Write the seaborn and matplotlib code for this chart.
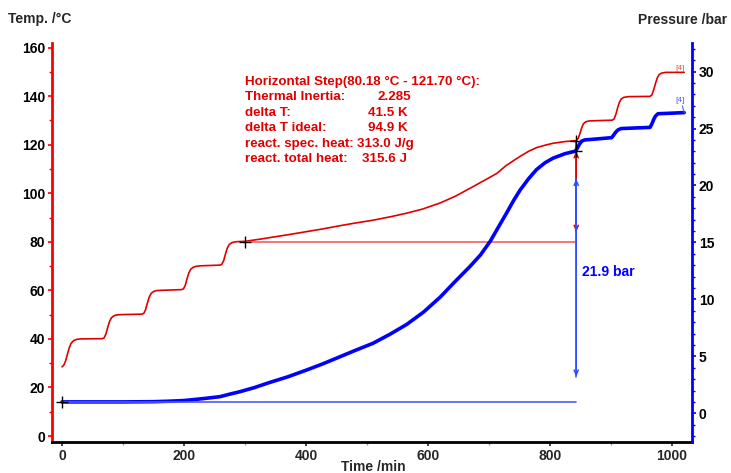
import numpy as np
import pandas as pd
import matplotlib
matplotlib.use("Agg")
import matplotlib.pyplot as plt
from matplotlib.ticker import MultipleLocator
import seaborn as sns

# temperature curve
temp_time = [0, 3, 6, 9, 12, 15, 19, 24, 30,
             66, 69, 72, 75, 78, 81, 85, 90, 96,
             131, 134, 137, 140, 143, 146, 150, 155, 161,
             196, 199, 202, 205, 208, 211, 215, 220, 226,
             259, 262, 265, 268, 271, 274, 278, 284, 290,
             300, 325, 350, 375, 401, 425, 455, 480, 510, 540, 565, 590, 620, 645,
             670, 696, 713, 727, 740, 751, 765, 778, 792, 805, 825,
             843, 846, 849, 852, 855, 859, 865, 875,
             902, 905, 908, 911, 914, 917, 921, 928,
             964, 967, 970, 973, 976, 979, 983, 990, 1020]
temp_vals = [28.5, 29.2, 31, 33.8, 36.4, 38.2, 39.3, 39.8, 40.0,
             40.1, 40.4, 42, 44.8, 47.2, 48.7, 49.5, 49.9, 50.0,
             50.2, 50.5, 52, 54.8, 57.2, 58.7, 59.5, 59.9, 60.0,
             60.3, 60.6, 62, 64.8, 67.2, 68.7, 69.5, 69.9, 70.1,
             70.4, 70.7, 72.2, 75, 77.4, 78.8, 79.6, 80.0, 80.1,
             80.2, 81.1, 82.1, 83.1, 84.2, 85.2, 86.6, 87.7, 88.9, 90.4, 91.8, 93.4, 96.0, 98.8,
             102.2, 105.8, 108.2, 111.2, 113.4, 115.2, 117.3, 118.8, 119.8, 120.6, 121.3,
             121.7, 122.5, 124.5, 127, 128.7, 129.5, 129.8, 129.9,
             130.1, 130.6, 132.5, 135.3, 137.6, 138.9, 139.5, 139.8,
             139.9, 140.5, 142.6, 145.3, 147.6, 148.9, 149.5, 149.8, 149.8]

# pressure curve
pres_time = [0, 50, 100, 150, 175, 200, 230, 259, 275, 292, 315, 340, 370, 401, 428,
             455, 482, 510, 538, 565, 593, 620, 645, 669, 686, 702, 716, 729, 740,
             751, 765, 778, 792, 805, 825, 841, 844, 848, 852, 857, 880, 901, 904,
             908, 912, 917, 940, 964, 967, 970, 973, 977, 1000, 1020]
pres_vals = [1.0, 1.0, 1.0, 1.02, 1.06, 1.12, 1.28, 1.46, 1.68, 1.9, 2.25, 2.7, 3.2, 3.8, 4.35,
             4.95, 5.55, 6.15, 6.95, 7.8, 8.9, 10.2, 11.6, 12.9, 13.9, 15.1, 16.4, 17.6, 18.65,
             19.6, 20.6, 21.4, 22.0, 22.4, 22.8, 23.0, 23.2, 23.6, 23.9, 24.0, 24.1, 24.2, 24.4,
             24.7, 24.9, 25.0, 25.05, 25.1, 25.4, 25.8, 26.1, 26.3, 26.35, 26.4]

# evaluation marks
step_t0, step_t1 = 300, 843
step_T1 = 121.7
p_base, p_end = 1.0, 23.0

info_labels = ["Horizontal Step(80.18 \u00b0C - 121.70 \u00b0C):", "Thermal Inertia:", "delta T:",
               "delta T ideal:", "react. spec. heat:", "react. total heat:"]
info_values = ["", "2.285", "41.5 K", "94.9 K", "313.0 J/g", "315.6 J"]
info_value_x = [0, 377, 368, 368, 357, 362]  # pixel left edges of value column

sns.set_style("ticks")
plt.rcParams['font.family'] = ['Liberation Sans', 'DejaVu Sans']
plt.rcParams['font.weight'] = 'bold'

RED = "#e00000"
BLUE = "#0000ff"
W, H = 731, 473

fig = plt.figure(figsize=(W / 100, H / 100), dpi=100)
ax = fig.add_axes([52 / W, 1 - 442 / H, (692 - 52) / W, (442 - 43) / H])
ax2 = ax.twinx()

temp_df = pd.DataFrame({"t": temp_time, "T": temp_vals})
pres_df = pd.DataFrame({"t": pres_time, "p": pres_vals})

sns.lineplot(data=temp_df, x="t", y="T", ax=ax, color=RED, lw=1.2, sort=False, estimator=None)
sns.lineplot(data=pres_df, x="t", y="p", ax=ax2, color=BLUE, lw=2.6, sort=False, estimator=None)

# horizontal step baselines
ax.plot([step_t0, step_t1], [80, 80], color="#f06060", lw=1.2)
ax2.plot([0, step_t1], [p_base, p_base], color="#4a5cff", lw=1.2)

# vertical arrows
ax.plot([step_t1, step_t1], [84, step_T1], color=RED, lw=1.1)
ax.annotate("", xy=(step_t1, 117.4), xytext=(step_t1, 84.0),
            arrowprops=dict(arrowstyle="<->,head_length=0.35,head_width=0.15", color=RED, lw=1.1,
                            shrinkA=0, shrinkB=0))
ax2.plot([step_t1, step_t1], [3.2, 20.6], color="#3050ff", lw=1.1, zorder=1)
ax2.annotate("", xy=(step_t1, 20.6), xytext=(step_t1, 3.2),
             arrowprops=dict(arrowstyle="<->,head_length=0.35,head_width=0.15", color="#3050ff", lw=1.1,
                             shrinkA=0, shrinkB=0))
ax2.text(852, 12.4, "21.9 bar", color=BLUE, fontsize=10, fontweight="bold", va="center")

# cursor marks
ax.plot([step_t0, step_t1], [80, step_T1], ls="none", marker="+", ms=8, mew=1, color="black", zorder=5)
ax2.plot([0, step_t1], [p_base, p_end], ls="none", marker="+", ms=8, mew=1, color="black", zorder=5)

# segment labels
ax.text(1013, 151.6, "[4]", color="#f05050", fontsize=6, ha="center", va="center", fontweight="normal")
ax2.text(1013, 27.5, "[4]", color="#5060ff", fontsize=6, ha="center", va="center", fontweight="normal")
ax2.plot([1017, 1020], [27.0, 26.4], color="#5060ff", lw=0.8)

# info block
for i, (lab, val) in enumerate(zip(info_labels, info_values)):
    y = 1 - (82 + i * 15.4) / H
    fig.text(245 / W, y, lab, color=RED, fontsize=9.6, fontweight="bold", va="center")
    if val:
        fig.text(info_value_x[i] / W, y, val, color=RED, fontsize=9.6, fontweight="bold", va="center")

# axes setup
ax.set_xlim(-16.4, 1032.8)
ax.set_ylim(-2.47, 161.9)
ax2.set_ylim(-2.52, 32.51)
ax.set_xlabel("")
ax.set_ylabel("")
ax2.set_ylabel("")
ax.xaxis.set_major_locator(MultipleLocator(200))
ax.xaxis.set_minor_locator(MultipleLocator(100))
ax.yaxis.set_major_locator(MultipleLocator(20))
ax.yaxis.set_minor_locator(MultipleLocator(10))
ax2.yaxis.set_major_locator(MultipleLocator(5))
ax2.yaxis.set_minor_locator(MultipleLocator(1))

for a in (ax, ax2):
    a.spines["top"].set_visible(False)
ax.spines["left"].set_color("#ff0000")
ax.spines["left"].set_linewidth(2)
ax.spines["right"].set_visible(False)
ax.spines["bottom"].set_linewidth(2)
ax.spines["bottom"].set_color("black")
ax2.spines["left"].set_visible(False)
ax2.spines["bottom"].set_visible(False)
ax2.spines["right"].set_color(BLUE)
ax2.spines["right"].set_linewidth(2)

ax.tick_params(axis="y", which="major", colors="#ff0000", labelcolor="black", length=3, width=1.2, labelsize=10, pad=2)
ax.tick_params(axis="y", which="minor", colors="#ff0000", length=2, width=1)
ax2.tick_params(axis="y", which="major", colors=BLUE, labelcolor="black", length=3, width=1.2, labelsize=10, pad=2)
ax2.tick_params(axis="y", which="minor", colors=BLUE, length=2, width=1)
ax.tick_params(axis="x", which="major", length=3, width=1.2, labelsize=10, pad=2)
ax.tick_params(axis="x", which="minor", length=2, width=1, color="#999999")
for lab in ax.get_xticklabels() + ax.get_yticklabels() + ax2.get_yticklabels():
    lab.set_fontweight("bold")

fig.text(8 / W, 1 - 19 / H, "Temp. /\u00b0C", fontsize=10, fontweight="bold", va="center", ha="left")
fig.text(727 / W, 1 - 20 / H, "Pressure /bar", fontsize=10, fontweight="bold", va="center", ha="right")
fig.text(373 / W, 1 - 467 / H, "Time /min", fontsize=10, fontweight="bold", va="center", ha="center")

fig.savefig("out.png", dpi=100)
